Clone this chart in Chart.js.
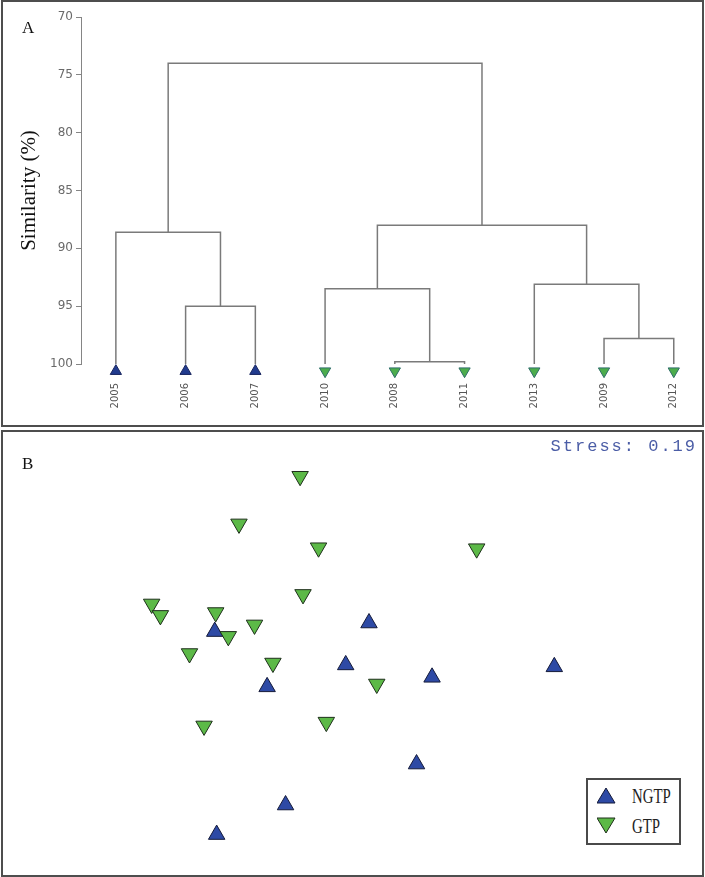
<!DOCTYPE html>
<html><head><meta charset="utf-8">
<script src="https://cdn.jsdelivr.net/npm/chart.js@4.4.1/dist/chart.umd.min.js"></script>
<style>
html,body{margin:0;padding:0;background:#fff;}
body{width:705px;height:877px;position:relative;overflow:hidden;}
.panel{position:absolute;box-sizing:border-box;border:2px solid #4e4e4e;}
canvas{position:absolute;}
.lbl{position:absolute;font-family:"Liberation Serif","Times New Roman",serif;font-size:17px;line-height:17px;color:#111;}
#stress{position:absolute;right:8px;top:438px;font-family:"Liberation Mono","DejaVu Sans Mono",monospace;font-size:17px;line-height:17px;letter-spacing:2px;color:#4b5da6;}
#legend{position:absolute;left:586px;top:778px;width:95px;height:67px;box-sizing:border-box;border:2px solid #4a4a4a;background:#fff;}
#legend svg{position:absolute;}
#legend span{position:absolute;font-family:"Liberation Serif","Times New Roman",serif;font-size:20px;line-height:20px;color:#222;transform:scaleX(0.74);transform-origin:left center;}
</style></head><body>
<div class="panel" style="left:1px;top:0;width:703px;height:427px"></div>
<div class="panel" style="left:1px;top:430px;width:703px;height:447px"></div>
<canvas id="cA" width="705" height="428" style="left:0;top:0"></canvas>
<canvas id="cB" width="705" height="447" style="left:0;top:430px"></canvas>
<div class="lbl" style="left:22px;top:19px">A</div>
<div class="lbl" style="left:22px;top:455px">B</div>
<div id="stress"></div>
<div id="legend"></div>
<script>
// ---------- Panel A: cluster dendrogram ----------
const leafLabels = ['2005','2006','2007','2010','2008','2011','2013','2009','2012'];
const leafGroups = ['NGTP','NGTP','NGTP','GTP','GTP','GTP','GTP','GTP','GTP'];
// merges (node ids: leaves 0..8, merge k => 9+k)
const mergeLeft = [1, 0, 4, 3, 7, 6, 12, 10];
const mergeRight = [2, 9, 5, 11, 8, 13, 14, 15];
const mergeSimilarity = [95.0, 88.6, 99.8, 93.5, 97.8, 93.1, 88.0, 74.0];
const similarityTicks = [70, 75, 80, 85, 90, 95, 100];

// ---------- Panel B: NMDS ordination ----------
const ngtpX = [-1.42, 0.17, -0.07, 0.82, -0.88, 0.66, -0.69, -1.40, 2.08];
const ngtpY = [0.23, 0.32, -0.12, -0.25, -0.35, -1.16, -1.59, -1.90, -0.14];
const gtpX = [-0.54, -1.17, -0.35, 1.28, -0.51, -2.07, -1.98, -1.41, -1.28, -1.01, -1.68, -0.82, 0.25, -1.53, -0.27];
const gtpY = [1.86, 1.36, 1.11, 1.10, 0.62, 0.52, 0.40, 0.43, 0.18, 0.30, 0.00, -0.10, -0.32, -0.76, -0.72];
const stressValue = 0.19;
const groupNames = ['NGTP', 'GTP'];

const COL = {
  line: '#7a7a7a',
  axis: '#858585',
  leafBlue: '#213b8e', leafBlueEdge: '#16245e',
  leafGreen: '#4cad4c', leafGreenEdge: '#2f6e6a',
  blue: '#2e4aa5', blueEdge: '#151b3a',
  green: '#5cb947', greenEdge: '#1f301c'
};

// build dendrogram node positions
const nodeX = leafLabels.map((_, i) => i);
const nodeH = leafLabels.map(() => 100);
const dendroSets = [];
mergeLeft.forEach((l, k) => {
  const r = mergeRight[k], h = mergeSimilarity[k];
  nodeX.push((nodeX[l] + nodeX[r]) / 2);
  nodeH.push(h);
  dendroSets.push({
    type: 'scatter', showLine: true, tension: 0,
    data: [{x: nodeX[l], y: nodeH[l]}, {x: nodeX[l], y: h}, {x: nodeX[r], y: h}, {x: nodeX[r], y: nodeH[r]}],
    borderColor: COL.line, borderWidth: 1.5, pointRadius: 0, fill: false
  });
});
const leafLevel = 100.62;
const leafNG = [], leafG = [];
leafLabels.forEach((_, i) => {
  (leafGroups[i] === 'NGTP' ? leafNG : leafG).push({x: i, y: leafLevel});
});
dendroSets.push({type: 'scatter', data: leafNG, pointStyle: 'triangle', rotation: 0, pointRadius: 6.5,
  backgroundColor: COL.leafBlue, borderColor: COL.leafBlueEdge, borderWidth: 1, clip: false});
dendroSets.push({type: 'scatter', data: leafG, pointStyle: 'triangle', rotation: 180, pointRadius: 6.5,
  backgroundColor: COL.leafGreen, borderColor: COL.leafGreenEdge, borderWidth: 1, clip: false});

new Chart(document.getElementById('cA'), {
  type: 'scatter',
  data: {datasets: dendroSets},
  options: {
    responsive: false, animation: false, events: [],
    layout: {padding: {top: 17, right: 10, left: 0, bottom: 0}},
    plugins: {legend: {display: false}, tooltip: {enabled: false}},
    scales: {
      x: {
        type: 'linear', min: -0.5, max: 8.2,
        afterBuildTicks: s => { s.ticks = leafLabels.map((_, i) => ({value: i})); },
        ticks: {autoSkip: false, minRotation: 90, maxRotation: 90, padding: 19, color: '#555',
          font: {family: 'DejaVu Sans', size: 10}, callback: v => leafLabels[v]},
        grid: {display: false, drawTicks: false}, border: {display: false},
        afterFit: s => { s.height = 64; }
      },
      y: {
        type: 'linear', reverse: true, min: 70, max: 100,
        afterBuildTicks: s => { s.ticks = similarityTicks.map(v => ({value: v})); },
        ticks: {padding: 3, color: '#6a6a6a', font: {family: 'DejaVu Sans', size: 12}},
        grid: {drawOnChartArea: false, drawTicks: true, tickLength: 5, color: COL.axis, lineWidth: 1},
        border: {display: true, color: COL.axis, width: 1},
        title: {display: true, text: 'Similarity (%)', color: '#111',
          font: {family: 'Liberation Serif', size: 21}, padding: {top: 17, bottom: 0}},
        afterFit: s => { s.width = 81; }
      }
    }
  }
});

// ---------- Panel B ----------
const zip = (xs, ys) => xs.map((x, i) => ({x: x, y: ys[i]}));
new Chart(document.getElementById('cB'), {
  type: 'scatter',
  data: {datasets: [
    {label: 'GTP', data: zip(gtpX, gtpY), pointStyle: 'triangle', rotation: 180, pointRadius: 9.5,
      backgroundColor: COL.green, borderColor: COL.greenEdge, borderWidth: 1},
    {label: 'NGTP', data: zip(ngtpX, ngtpY), pointStyle: 'triangle', rotation: 0, pointRadius: 9.5,
      backgroundColor: COL.blue, borderColor: COL.blueEdge, borderWidth: 1}
  ]},
  options: {
    responsive: false, animation: false, events: [],
    layout: {padding: 0},
    plugins: {legend: {display: false}, tooltip: {enabled: false}},
    scales: {
      x: {display: false, min: -3.525, max: 3.525},
      y: {display: false, min: -2.235, max: 2.235}
    }
  }
});

document.getElementById('stress').textContent = 'Stress: ' + stressValue.toFixed(2);

// legend (HTML text, svg symbols)
const lg = document.getElementById('legend');
const legendStyles = {
  NGTP: {fill: COL.blue, edge: COL.blueEdge, pts: '9,1 18,16 0,16'},
  GTP: {fill: COL.green, edge: COL.greenEdge, pts: '0,1 18,1 9,16'}
};
groupNames.forEach((g, i) => {
  const st = legendStyles[g];
  const top = 7 + i * 30;
  lg.insertAdjacentHTML('beforeend',
    '<svg width="19" height="18" style="left:9px;top:' + top + 'px"><polygon points="' + st.pts +
    '" fill="' + st.fill + '" stroke="' + st.edge + '" stroke-width="1"/></svg>' +
    '<span style="left:44px;top:' + (top - 1) + 'px">' + g + '</span>');
});
</script>
</body></html>
